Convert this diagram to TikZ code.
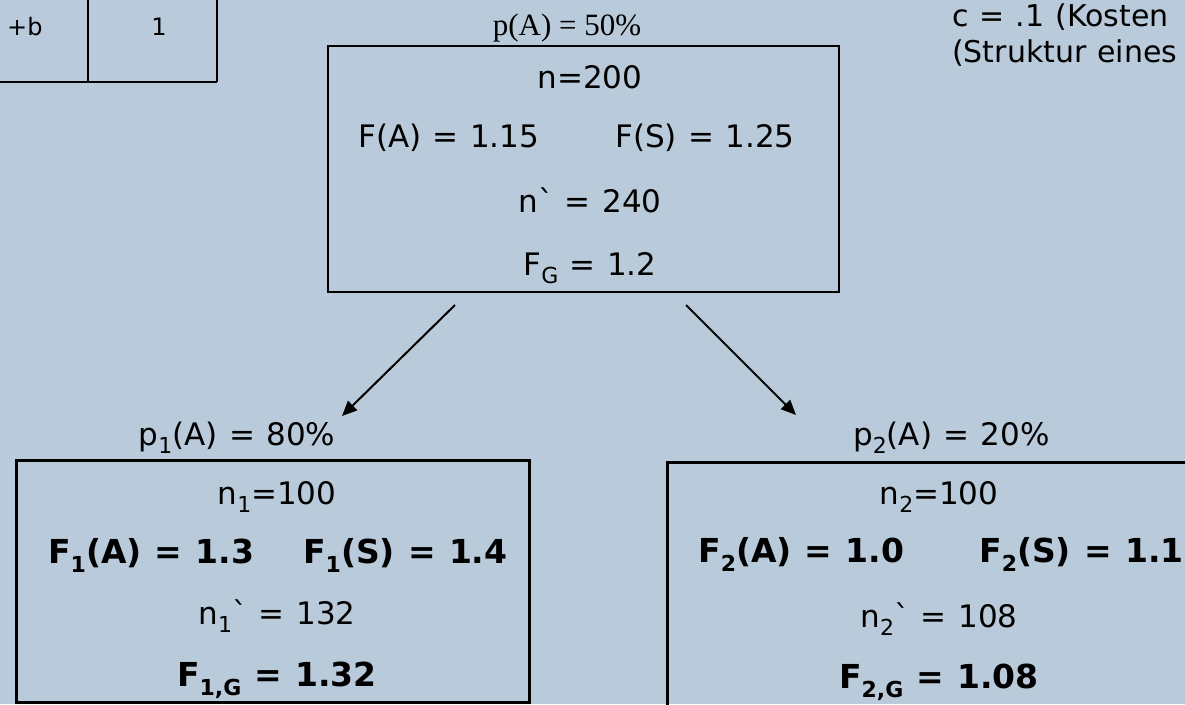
\documentclass[tikz,border=0pt]{standalone}
\usepackage{fontspec}
\setmainfont[WordSpace=1.15]{DejaVu Sans}
\newfontfamily\timesfont{Liberation Serif}
\usetikzlibrary{arrows.meta}
\definecolor{slidebg}{RGB}{185,203,219}
\newcommand{\lo}[1]{\raisebox{-0.28em}{\fontsize{22}{22}\selectfont #1}}

\begin{document}
\begin{tikzpicture}[
    x=1pt, y=-1pt,
    box/.style={draw=black, line width=3pt, inner sep=0pt},
    rule/.style={black, line width=2pt},
    txt/.style={font=\fontsize{31}{37}\selectfont, anchor=base, inner sep=0pt},
    bld/.style={font=\fontsize{33}{40}\selectfont\bfseries, anchor=base, inner sep=0pt},
    note/.style={font=\fontsize{30}{36}\selectfont, anchor=base west, inner sep=0pt},
    cell/.style={font=\fontsize{24}{29}\selectfont, anchor=base, inner sep=0pt},
    branch/.style={black, line width=2pt, -{Triangle[length=15pt,width=13pt]}}
]

% ---------- slide ----------
\fill[slidebg] (0,0) rectangle (1185,704);
\useasboundingbox (0,0) rectangle (1185,704);
\clip (0,0) rectangle (1185,704);

% ---------- table corner ----------
\draw[rule] (88,0) -- (88,82);
\draw[rule] (217,0) -- (217,82);
\draw[rule] (0,82) -- (217,82);
\node[cell, anchor=base west] (cellab) at (7,35) {+b};
\node[cell] (cellone) at (159,35) {1};

% ---------- notes ----------
\node[note] (cost) at (952,27) {c = .1 (Kosten};
\node[note] (struct) at (952,62) {(Struktur eines};

% ---------- boxes ----------
\node[box, line width=2pt, minimum width=511, minimum height=246] (root) at (583.5,169) {};
\node[box, minimum width=513, minimum height=242] (left) at (272.5,581) {};
\node[box, minimum width=543, minimum height=262] (right) at (938.5,593) {};

% ---------- root ----------
\node[txt, font=\fontsize{31}{37}\selectfont\timesfont] (pA) at (567,35) {p(A) = 50\%};
\node[txt] (n) at (590,88) {n=200};
\node[txt, anchor=base west] (FA) at (358,147) {F(A) = 1.15};
\node[txt, anchor=base west] (FS) at (615,147) {F(S) = 1.25};
\node[txt] (nn) at (590,212) {n\textasciigrave{} = 240};
\node[txt] (FG) at (590,275) {F\lo{G} = 1.2};

% ---------- left child ----------
\node[txt] (pA1) at (237,445) {p\lo{1}(A) = 80\%};
\node[txt] (n1) at (277,504) {n\lo{1}=100};
\node[bld, anchor=base west] (F1A) at (48,563) {F\lo{1}(A) = 1.3};
\node[bld, anchor=base west] (F1S) at (303,563) {F\lo{1}(S) = 1.4};
\node[txt] (nn1) at (277,624) {n\lo{1}\textasciigrave{} = 132};
\node[bld] (F1G) at (277,686) {F\lo{1,G} = 1.32};

% ---------- right child ----------
\node[txt, anchor=base west] (pA2) at (853,445) {p\lo{2}(A) = 20\%};
\node[txt] (n2) at (939,504) {n\lo{2}=100};
\node[bld, anchor=base west] (F2A) at (698,562) {F\lo{2}(A) = 1.0};
\node[bld, anchor=base west] (F2S) at (979,562) {F\lo{2}(S) = 1.1};
\node[txt] (nn2) at (939,627) {n\lo{2}\textasciigrave{} = 108};
\node[bld] (F2G) at (939,688) {F\lo{2,G} = 1.08};

% ---------- branches ----------
\coordinate (lsrc) at (455,305);
\coordinate (ltip) at (342,416);
\coordinate (rsrc) at (686,305);
\coordinate (rtip) at (796,415);
\draw[branch] (lsrc) -- (ltip);
\draw[branch] (rsrc) -- (rtip);

\end{tikzpicture}
\end{document}
